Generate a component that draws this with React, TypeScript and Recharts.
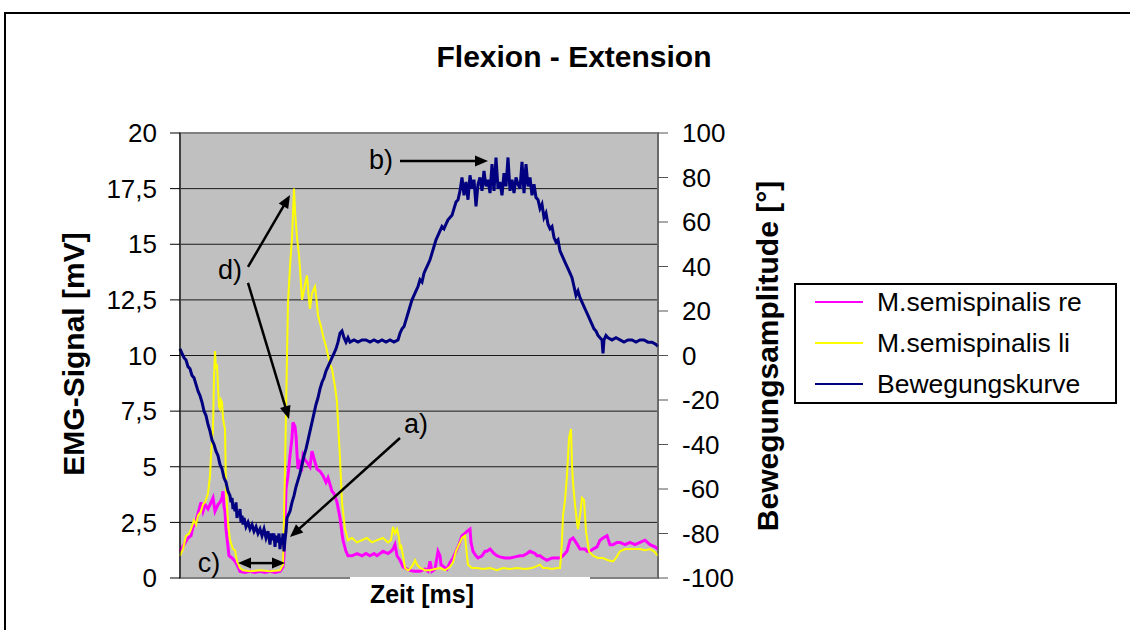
import { LineChart, Line, XAxis, YAxis, CartesianGrid, Legend, ReferenceLine, ReferenceDot, ReferenceArea } from 'recharts';

// EMG (mV, linke Achse) und Bewegungskurve (Grad, rechte Achse), Zeit in Abtastschritten
const semiRe: [number, number][] = [
  [0, 1.2], [4, 1.5], [8, 1.8], [11, 1.9], [13, 2.3], [15, 2.4], [18, 2.9], [21, 3.4], [23, 3.0], [25, 3.3],
  [28, 3.1], [31, 3.4], [33, 3.6], [35, 3.0], [36, 3.1], [38, 3.3], [40, 3.4], [42, 3.6], [43, 3.9], [44, 3.2],
  [45, 3.0], [46, 2.2], [48, 1.4], [49, 1.0], [52, 0.9], [55, 0.75], [58, 0.5], [60, 0.3], [65, 0.25], [70, 0.3],
  [75, 0.25], [80, 0.3], [85, 0.25], [90, 0.3], [95, 0.25], [100, 0.3], [103, 0.5], [104, 1.0], [105, 2.5], [106, 4.0],
  [108, 4.6], [110, 5.5], [112, 6.3], [113, 7.0], [115, 6.8], [116, 6.4], [117, 5.6], [118, 4.9], [120, 5.2], [122, 5.0],
  [123, 5.5], [125, 5.3], [127, 5.2], [130, 5.0], [132, 5.7], [135, 5.2], [137, 4.9], [140, 4.8], [143, 4.6], [146, 4.3],
  [148, 4.5], [150, 4.2], [152, 3.9], [154, 3.8], [157, 3.4], [160, 2.7], [162, 2.0], [163, 1.7], [166, 1.2], [168, 1.0],
  [172, 1.0], [177, 1.1], [182, 1.0], [186, 1.1], [190, 1.0], [194, 1.1], [197, 1.0], [200, 1.1], [203, 1.2], [208, 1.1],
  [211, 1.2], [213, 1.3], [215, 1.5], [217, 1.0], [220, 0.8], [223, 0.5], [227, 0.4], [230, 0.35], [234, 0.3], [237, 0.3],
  [240, 0.3], [245, 0.4], [248, 0.3], [250, 0.75], [252, 0.3], [255, 0.4], [258, 1.2], [260, 1.0], [261, 0.6], [264, 0.5],
  [267, 0.4], [270, 0.7], [273, 0.9], [276, 1.2], [279, 1.5], [282, 1.9], [285, 2.0], [287, 2.1], [290, 2.2], [291, 1.6],
  [293, 1.2], [296, 1.0], [298, 0.9], [302, 1.0], [305, 1.2], [307, 1.2], [310, 1.3], [314, 1.1], [317, 1.0], [320, 0.95],
  [325, 0.9], [330, 0.9], [335, 0.95], [340, 1.0], [343, 1.0], [347, 1.1], [350, 1.2], [355, 1.1], [357, 1.0], [360, 1.0],
  [363, 0.9], [367, 0.8], [372, 0.9], [377, 0.9], [380, 0.9], [383, 1.0], [387, 1.2], [390, 1.7], [393, 1.8], [396, 1.6],
  [400, 1.3], [405, 1.3], [407, 1.2], [410, 1.2], [413, 1.3], [417, 1.4], [420, 1.7], [423, 1.8], [427, 1.9], [430, 1.5],
  [433, 1.5], [437, 1.6], [440, 1.6], [445, 1.5], [450, 1.6], [455, 1.5], [460, 1.6], [465, 1.7], [470, 1.5], [475, 1.4],
  [478, 1.3],
];

const semiLi: [number, number][] = [
  [0, 1.0], [3, 1.3], [6, 1.9], [9, 2.0], [11, 2.2], [14, 2.6], [16, 2.4], [18, 2.8], [21, 3.0], [23, 3.3],
  [25, 3.4], [28, 3.8], [30, 4.6], [31, 5.5], [33, 6.7], [34, 9.0], [35, 10.2], [36, 9.4], [37, 9.6], [38, 8.6],
  [39, 7.7], [40, 7.6], [41, 8.0], [42, 7.9], [43, 7.2], [44, 6.9], [45, 6.7], [46, 4.0], [48, 2.5], [50, 1.7],
  [53, 1.3], [55, 1.25], [57, 0.75], [60, 0.45], [63, 0.35], [70, 0.3], [80, 0.35], [90, 0.3], [100, 0.35], [103, 0.6],
  [105, 4.9], [107, 10], [108, 12.4], [110, 14], [112, 15.3], [114, 17.5], [115, 16.5], [117, 15.3], [119, 14.5], [120, 13.9],
  [122, 12.5], [123, 12.7], [125, 13.2], [127, 13.6], [129, 12.5], [130, 12.1], [132, 12.8], [135, 13.1], [137, 12.3], [138, 11.8],
  [141, 11.3], [143, 10.9], [146, 10.4], [148, 10.0], [150, 9.6], [152, 9.4], [155, 8.6], [157, 7.9], [158, 7.0], [160, 5.4],
  [162, 3.4], [165, 2.2], [168, 1.7], [172, 1.8], [177, 1.6], [182, 1.7], [187, 1.8], [192, 1.6], [197, 1.7], [203, 1.8],
  [208, 1.6], [211, 1.7], [213, 2.3], [215, 2.0], [217, 2.2], [219, 1.8], [220, 1.3], [221, 1.5], [223, 1.0], [225, 0.45],
  [228, 0.35], [230, 0.4], [233, 0.6], [235, 0.8], [237, 0.6], [240, 0.45], [245, 0.35], [250, 0.35], [255, 0.4], [260, 0.45],
  [265, 0.35], [270, 0.5], [273, 0.7], [276, 1.2], [280, 1.6], [282, 1.8], [285, 1.9], [287, 1.0], [288, 0.6], [292, 0.45],
  [297, 0.45], [303, 0.4], [310, 0.45], [317, 0.35], [323, 0.45], [330, 0.4], [337, 0.45], [345, 0.4], [352, 0.45], [355, 0.5],
  [360, 0.6], [363, 0.45], [367, 0.45], [372, 0.4], [377, 0.45], [380, 0.45], [381, 1.0], [382, 1.7], [383, 2.8], [385, 3.5],
  [387, 4.6], [389, 6.3], [391, 6.7], [392, 5.1], [393, 4.3], [395, 3.3], [397, 2.5], [398, 2.2], [400, 2.8], [402, 3.6],
  [404, 3.5], [406, 2.1], [408, 1.5], [409, 1.2], [413, 1.0], [418, 0.9], [423, 0.9], [428, 0.8], [433, 0.75], [436, 0.9],
  [440, 1.2], [445, 1.3], [450, 1.3], [455, 1.3], [460, 1.3], [465, 1.25], [470, 1.3], [474, 1.2], [478, 1.0],
];

const bewegung: [number, number][] = [
  [0, 3], [2, 1], [4, -1], [6, -2], [8, -5], [10, -6], [12, -9], [14, -10], [16, -13], [18, -16],
  [20, -18], [22, -21], [24, -25], [26, -27], [28, -31], [30, -34], [32, -38], [34, -40], [36, -43], [38, -45],
  [40, -49], [42, -51], [44, -55], [46, -57], [48, -61], [50, -63], [51, -66], [52, -64], [53, -69], [54, -67],
  [55, -70], [56, -66], [57, -73], [58, -70], [59, -72], [60, -69], [61, -75], [62, -72], [63, -76], [64, -73],
  [66, -77], [68, -75], [70, -78], [72, -76], [74, -79], [76, -77], [78, -80], [80, -78], [82, -81], [84, -78],
  [86, -82], [88, -79], [90, -85], [91, -80], [92, -83], [94, -80], [95, -86], [96, -81], [98, -84], [99, -80],
  [100, -87], [101, -82], [102, -85], [103, -80], [104, -88], [105, -83], [106, -79], [107, -73], [108, -72], [110, -70],
  [112, -66], [114, -63], [116, -59], [118, -56], [120, -53], [122, -49], [124, -45], [126, -42], [128, -38], [130, -34],
  [132, -30], [134, -26], [136, -22], [138, -19], [140, -15], [142, -12], [144, -10], [146, -7], [148, -5], [150, -3],
  [152, -1], [154, 1], [156, 3], [158, 6], [160, 10], [162, 11], [164, 8], [166, 6], [168, 8], [170, 6],
  [174, 7], [178, 6], [182, 7], [186, 7], [190, 6], [194, 7], [198, 6], [202, 7], [206, 6], [210, 7],
  [214, 6], [218, 7], [220, 10], [222, 12], [224, 13], [226, 16], [228, 19], [230, 22], [232, 25], [234, 27],
  [236, 29], [238, 31], [240, 34], [242, 33], [244, 37], [246, 39], [248, 41], [250, 43], [252, 46], [254, 49],
  [256, 52], [258, 54], [260, 56], [262, 58], [264, 57], [266, 59], [268, 61], [270, 62], [272, 63], [274, 66],
  [276, 69], [278, 70], [280, 74], [282, 80], [284, 72], [286, 78], [288, 70], [290, 81], [292, 75], [294, 79],
  [296, 67], [298, 77], [300, 80], [302, 74], [304, 83], [306, 76], [308, 79], [310, 73], [312, 86], [314, 74],
  [316, 89], [318, 75], [320, 78], [322, 72], [324, 82], [326, 76], [328, 89], [330, 74], [332, 79], [334, 73],
  [336, 80], [338, 77], [340, 75], [342, 87], [344, 73], [346, 86], [348, 76], [350, 80], [352, 72], [354, 77],
  [356, 71], [358, 70], [360, 66], [362, 68], [364, 62], [366, 64], [368, 59], [370, 57], [372, 58], [374, 53],
  [376, 51], [378, 52], [380, 47], [382, 45], [384, 43], [386, 41], [388, 39], [390, 37], [392, 35], [394, 31],
  [396, 27], [398, 29], [400, 26], [402, 24], [404, 22], [406, 20], [408, 18], [410, 16], [412, 14], [414, 12],
  [416, 11], [418, 9], [420, 8], [422, 7], [423, 1], [424, 7], [426, 9], [428, 8], [432, 7], [436, 8],
  [440, 7], [444, 6], [448, 7], [452, 7], [456, 6], [460, 7], [464, 7], [468, 6], [472, 6], [476, 5],
  [478, 4],
];

const emgTicks = [0, 2.5, 5, 7.5, 10, 12.5, 15, 17.5, 20];
const winkelTicks = [-100, -80, -60, -40, -20, 0, 20, 40, 60, 80, 100];

const series = [
  { key: 'M.semispinalis re', color: '#FF00FF', points: semiRe, axis: 'left', width: 3 },
  { key: 'M.semispinalis li', color: '#FFFF00', points: semiLi, axis: 'left', width: 2 },
  { key: 'Bewegungskurve', color: '#000080', points: bewegung, axis: 'right', width: 3 },
];

// Beschriftungen a) - d) in Datenkoordinaten (Zeit, mV)
const marks = [
  { text: 'b)', x: 201, y: 18.79 },
  { text: 'd)', x: 50, y: 13.84 },
  { text: 'a)', x: 236, y: 6.92 },
  { text: 'c)', x: 29, y: 0.67 },
];
const arrows = [
  { from: [220, 18.74], to: [308, 18.74], both: false },
  { from: [68, 13.98], to: [110, 17.21], both: false },
  { from: [68, 13.26], to: [109, 7.15], both: false },
  { from: [220, 6.29], to: [110, 1.84], both: false },
  { from: [58, 0.67], to: [105, 0.67], both: true },
];

const FONT = '"Liberation Sans", Arial, Helvetica, sans-serif';

const head = (x: number, y: number, dx: number, dy: number) => {
  const len = Math.hypot(dx, dy) || 1;
  const ux = dx / len, uy = dy / len;
  const L = 13, W = 5.5;
  const bx = x - ux * L, by = y - uy * L;
  return `${x},${y} ${bx - uy * W},${by + ux * W} ${bx + uy * W},${by - ux * W}`;
};

const arrowShape = (both: boolean) => (p: any) => {
  const { x1, y1, x2, y2 } = p;
  const dx = x2 - x1, dy = y2 - y1;
  const len = Math.hypot(dx, dy) || 1;
  const sx = both ? x1 + (dx / len) * 10 : x1;
  const sy = both ? y1 + (dy / len) * 10 : y1;
  return (
    <g>
      <line x1={sx} y1={sy} x2={x2 - (dx / len) * 10} y2={y2 - (dy / len) * 10} stroke="#000" strokeWidth={2.5} />
      <polygon points={head(x2, y2, dx, dy)} fill="#000" />
      {both && <polygon points={head(x1, y1, -dx, -dy)} fill="#000" />}
    </g>
  );
};

const LegendBox = () => (
  <div style={{ width: 319, height: 117, border: '2px solid #000', background: '#fff', fontFamily: FONT, fontSize: 26.5, position: 'relative' }}>
    {series.map((s, i) => (
      <div key={s.key} style={{ position: 'absolute', left: 19, top: 2 + i * 41, height: 30, display: 'flex', alignItems: 'center' }}>
        <div style={{ width: 48, height: 2, background: s.color }} />
        <span style={{ marginLeft: 14, color: '#000', whiteSpace: 'nowrap' }}>{s.key}</span>
      </div>
    ))}
  </div>
);

export default function App() {
  return (
    <div style={{ position: 'relative', width: 1130, height: 630, overflow: 'hidden', background: '#fff', fontFamily: FONT }}>
      <style>{'body{margin:0}'}</style>
      <div style={{ position: 'absolute', left: 4, top: 12, width: 1200, height: 700, border: '2px solid #000' }} />
      <LineChart width={1130} height={630} margin={{ top: 133, right: 372, bottom: 52, left: 80 }} style={{ position: 'absolute', left: 0, top: 0 }}>
        <CartesianGrid yAxisId="left" vertical={false} stroke="#1a1a1a" fill="#C0C0C0" fillOpacity={1} />
        <XAxis type="number" dataKey="t" domain={[0, 478]} hide allowDuplicatedCategory={false} />
        <YAxis
          yAxisId="left"
          orientation="left"
          width={100}
          domain={[0, 20]}
          ticks={emgTicks}
          interval={0}
          tickSize={10}
          tickMargin={13}
          stroke="#000"
          tick={{ fontSize: 26, fill: '#000', fontFamily: FONT }}
          tickFormatter={(v: number) => String(v).replace('.', ',')}
        />
        <YAxis
          yAxisId="right"
          orientation="right"
          width={100}
          domain={[-100, 100]}
          ticks={winkelTicks}
          interval={0}
          tickSize={10}
          tickMargin={14}
          stroke="#555"
          tick={{ fontSize: 26, fill: '#000', fontFamily: FONT }}
        />
        <ReferenceArea yAxisId="left" x1={0} x2={478} y1={0} y2={20} fill="none" stroke="#808080" strokeWidth={2} ifOverflow="extendDomain" />
        {series.map((s) => (
          <Line
            key={s.key}
            yAxisId={s.axis}
            data={s.points.map(([t, v]) => ({ t, v }))}
            dataKey="v"
            name={s.key}
            type="linear"
            stroke={s.color}
            strokeWidth={s.width}
            strokeLinejoin="miter"
            dot={false}
            activeDot={false}
            isAnimationActive={false}
          />
        ))}
        {arrows.map((a, i) => (
          <ReferenceLine
            key={i}
            yAxisId="left"
            segment={[{ x: a.from[0], y: a.from[1] }, { x: a.to[0], y: a.to[1] }]}
            shape={arrowShape(a.both)}
          />
        ))}
        {marks.map((m) => (
          <ReferenceDot
            key={m.text}
            yAxisId="left"
            x={m.x}
            y={m.y}
            r={1}
            shape={(p: any) => (
              <text x={p.cx} y={p.cy} textAnchor="middle" dominantBaseline="central" fontSize={27} fontFamily={FONT} fill="#000">
                {m.text}
              </text>
            )}
          />
        ))}
        <Legend
          layout="vertical"
          align="center"
          verticalAlign="middle"
          content={() => <LegendBox />}
          wrapperStyle={{ left: 794, top: 283, width: 323, height: 121 }}
        />
      </LineChart>
      <svg width={1130} height={630} style={{ position: 'absolute', left: 0, top: 0, pointerEvents: 'none' }}>
        <text x={574} y={67} textAnchor="middle" fontSize={30} fontWeight="bold" fontFamily={FONT}>Flexion - Extension</text>
        <text transform="translate(84,354) rotate(-90)" textAnchor="middle" fontSize={30} fontWeight="bold" fontFamily={FONT}>EMG-Signal [mV]</text>
        <text transform="translate(778,356) rotate(-90)" textAnchor="middle" fontSize={30} fontWeight="bold" fontFamily={FONT}>Bewegungsamplitude [°]</text>
        <rect x={350} y={577} width={240} height={40} fill="#fff" />
        <text x={422} y={603} textAnchor="middle" fontSize={25} fontWeight="bold" fontFamily={FONT}>Zeit [ms]</text>
      </svg>
    </div>
  );
}
